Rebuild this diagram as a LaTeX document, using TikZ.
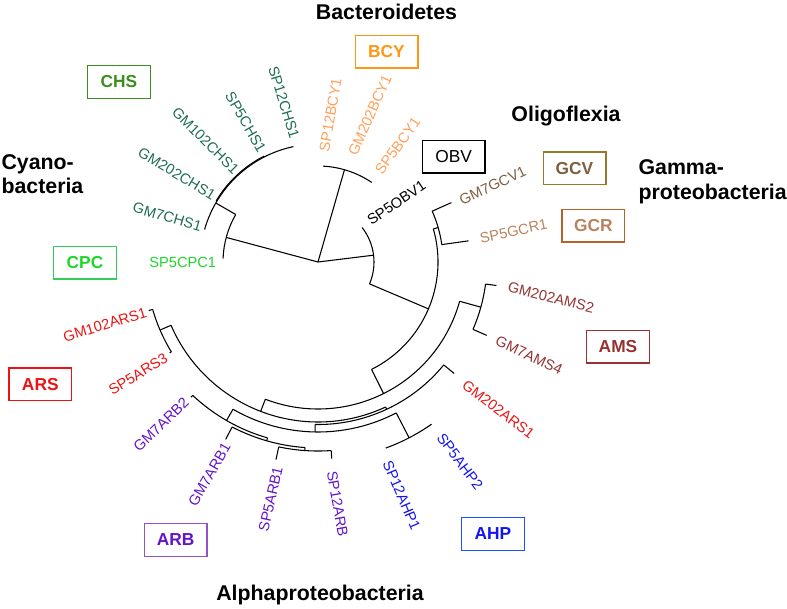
\documentclass[tikz,border=0pt]{standalone}
\usepackage{fontspec}
\setmainfont{Liberation Sans}

\definecolor{chsleaf}{RGB}{30,110,80}
\definecolor{chsbox}{RGB}{60,140,30}
\definecolor{cpc}{RGB}{30,215,40}
\definecolor{cpcbox}{RGB}{50,205,90}
\definecolor{bcyleaf}{RGB}{255,160,90}
\definecolor{bcy}{RGB}{255,150,20}
\definecolor{gcvleaf}{RGB}{125,95,65}
\definecolor{gcvbox}{RGB}{150,120,40}
\definecolor{gcrleaf}{RGB}{185,130,95}
\definecolor{gcrbox}{RGB}{180,100,40}
\definecolor{ams}{RGB}{150,50,50}
\definecolor{ars}{RGB}{235,20,20}
\definecolor{arb}{RGB}{100,20,200}
\definecolor{arbbox}{RGB}{150,80,200}
\definecolor{ahp}{RGB}{20,20,240}
\definecolor{ahpbox}{RGB}{30,80,255}

% arc of a clade: radius, from angle, to angle
\newcommand{\treearc}[3]{\draw (#2:#1) arc[start angle=#2, end angle=#3, radius=#1];}
% radial branch: angle, inner radius, outer radius
\newcommand{\treestem}[3]{\draw (#1:#2) -- (#1:#3);}

\begin{document}
\begin{tikzpicture}[x=0.75pt, y=0.75pt, line width=0.8pt,
    leaf/.style={inner sep=1pt, font=\fontsize{11}{13}\selectfont},
    tagbox/.style={draw, line width=1pt, minimum width=47pt, minimum height=24.5pt,
        inner sep=0pt, font=\bfseries\fontsize{13}{15}\selectfont},
    group/.style={inner sep=0pt, align=left, font=\bfseries\fontsize{16}{18.5}\selectfont}]
    \useasboundingbox (-318,-346) rectangle (469,262);

    \coordinate (root) at (0,0);
    \coordinate (cyan) at (165:95);
    \coordinate (bact) at (74:96);
    \coordinate (rest) at (7:56);
    \draw (root) -- (cyan) (root) -- (bact) (root) -- (rest);

    % cyanobacteria
    \treearc{95}{150}{178}
    \treestem{150}{95}{118}
    \treearc{118}{102}{164}
    \treearc{118.8}{117}{149}

    % bacteroidetes
    \treearc{96}{56}{87}

    % oligoflexia and proteobacteria
    \treearc{56}{-23}{38}
    \treestem{-23}{56}{120}
    \treearc{120}{-63.5}{16}
    \treestem{16}{120}{125}
    \treearc{125}{8}{24}
    \treestem{24}{125}{146}
    \treestem{8}{125}{152}
    \treestem{-63.5}{120}{147}
    \treearc{147}{249}{344.5}
    \treestem{344.5}{147}{169}
    \treearc{169}{336.5}{352.5}
    \treestem{352.5}{169}{180}
    \treestem{336.5}{169}{184}
    \treestem{249}{147}{160}
    \treearc{160}{203.3}{295}
    \treestem{203.3}{160}{172}
    \treearc{172}{196}{211.5}
    \treestem{196}{172}{176}
    \treestem{211.5}{172}{174}
    \treestem{295}{160}{162.5}
    \treearc{162.5}{269}{320.7}
    \treestem{320.7}{162.5}{176}
    \treestem{269}{162.5}{170}
    \treearc{170}{240}{297.4}
    \treestem{297.4}{170}{198}
    \treearc{198}{290}{305}
    \treestem{240}{170}{183}
    \treearc{183}{226.8}{254}
    \treestem{226.8}{183}{185.5}
    \treestem{254}{183}{186}
    \treearc{186}{242.5}{266}
    \treestem{242.5}{186}{200}
    \treestem{266}{186}{189}
    \treearc{189}{258}{274}
    \treestem{258}{189}{202}
    \treestem{274}{189}{197}

    % leaf names
    \node[leaf, chsleaf, anchor=east, rotate=-16] (gm7chs1) at (163.1:120) {GM7CHS1};
    \node[leaf, chsleaf, anchor=east, rotate=-31] (gm202chs1) at (147.6:121) {GM202CHS1};
    \node[leaf, chsleaf, anchor=east, rotate=-45] (gm102chs1) at (132:120) {GM102CHS1};
    \node[leaf, chsleaf, anchor=east, rotate=-60] (sp5chs1) at (116.6:122) {SP5CHS1};
    \node[leaf, chsleaf, anchor=east, rotate=-73] (sp12chs1) at (100.5:124) {SP12CHS1};
    \node[leaf, cpc, anchor=east] (sp5cpc1) at (180:100) {SP5CPC1};
    \node[leaf, bcyleaf, anchor=west, rotate=80] (sp12bcy1) at (87:109) {SP12BCY1};
    \node[leaf, bcyleaf, anchor=west, rotate=66] (gm202bcy1) at (72.4:111) {GM202BCY1};
    \node[leaf, bcyleaf, anchor=west, rotate=54] (sp5bcy1) at (56:106) {SP5BCY1};
    \node[leaf, anchor=west, rotate=34] (sp5obv1) at (38.7:63) {SP5OBV1};
    \node[leaf, gcvleaf, anchor=west, rotate=25] (gm7gcv1) at (23.3:153) {GM7GCV1};
    \node[leaf, gcrleaf, anchor=west, rotate=12] (sp5gcr1) at (8.3:162) {SP5GCR1};
    \node[leaf, ams, anchor=west, rotate=-14] (gm202ams2) at (-7.4:190) {GM202AMS2};
    \node[leaf, ams, anchor=west, rotate=-25] (gm7ams4) at (-23.6:193) {GM7AMS4};
    \node[leaf, ars, anchor=west, rotate=-37.5] (gm202ars1) at (-39.7:188) {GM202ARS1};
    \node[leaf, ahp, anchor=west, rotate=-53] (sp5ahp2) at (-54.8:210) {SP5AHP2};
    \node[leaf, ahp, anchor=west, rotate=-67] (sp12ahp1) at (-70.9:209) {SP12AHP1};
    \node[leaf, arb, anchor=west, rotate=-80] (sp12arb) at (-86.3:208) {SP12ARB};
    \node[leaf, arb, anchor=east, rotate=77] (sp5arb1) at (259:207) {SP5ARB1};
    \node[leaf, arb, anchor=east, rotate=60] (gm7arb1) at (243.5:202) {GM7ARB1};
    \node[leaf, arb, anchor=east, rotate=44] (gm7arb2) at (226.4:189) {GM7ARB2};
    \node[leaf, ars, anchor=east, rotate=31.5] (sp5ars3) at (212:177) {SP5ARS3};
    \node[leaf, ars, anchor=east, rotate=17] (gm102ars1) at (196.2:177) {GM102ARS1};

    % clade tags
    \node[tagbox, draw=chsbox, text=chsbox] (chs) at (-199,180) {CHS};
    \node[tagbox, draw=bcy, text=bcy] (bcy) at (68.5,210.5) {BCY};
    \node[tagbox, font=\fontsize{13}{15}\selectfont] (obv) at (135.7,105.3) {OBV};
    \node[tagbox, draw=gcvbox, text=gcvleaf] (gcv) at (256.5,93.7) {GCV};
    \node[tagbox, draw=gcrbox, text=gcrleaf] (gcr) at (275.3,36.3) {GCR};
    \node[tagbox, draw=ams, text=ams] (amsbox) at (300,-84.7) {AMS};
    \node[tagbox, draw=ahpbox, text=ahp] (ahpbox) at (175,-272) {AHP};
    \node[tagbox, draw=arbbox, text=arb] (arbbox) at (-142.3,-278) {ARB};
    \node[tagbox, draw=ars, text=ars] (arsbox) at (-277.7,-122.3) {ARS};
    \node[tagbox, draw=cpcbox, text=cpc] (cpcbox) at (-233,-0.7) {CPC};

    % groups
    \node[group] (bacteroidetes) at (68.5,250) {Bacteroidetes};
    \node[group] (oligoflexia) at (248,146) {Oligoflexia};
    \node[group, anchor=west] (gamma) at (320,80) {Gamma-\\proteobacteria};
    \node[group, anchor=west] (cyano) at (-317,88) {Cyano-\\bacteria};
    \node[group] (alpha) at (2,-333) {Alphaproteobacteria};
\end{tikzpicture}
\end{document}
